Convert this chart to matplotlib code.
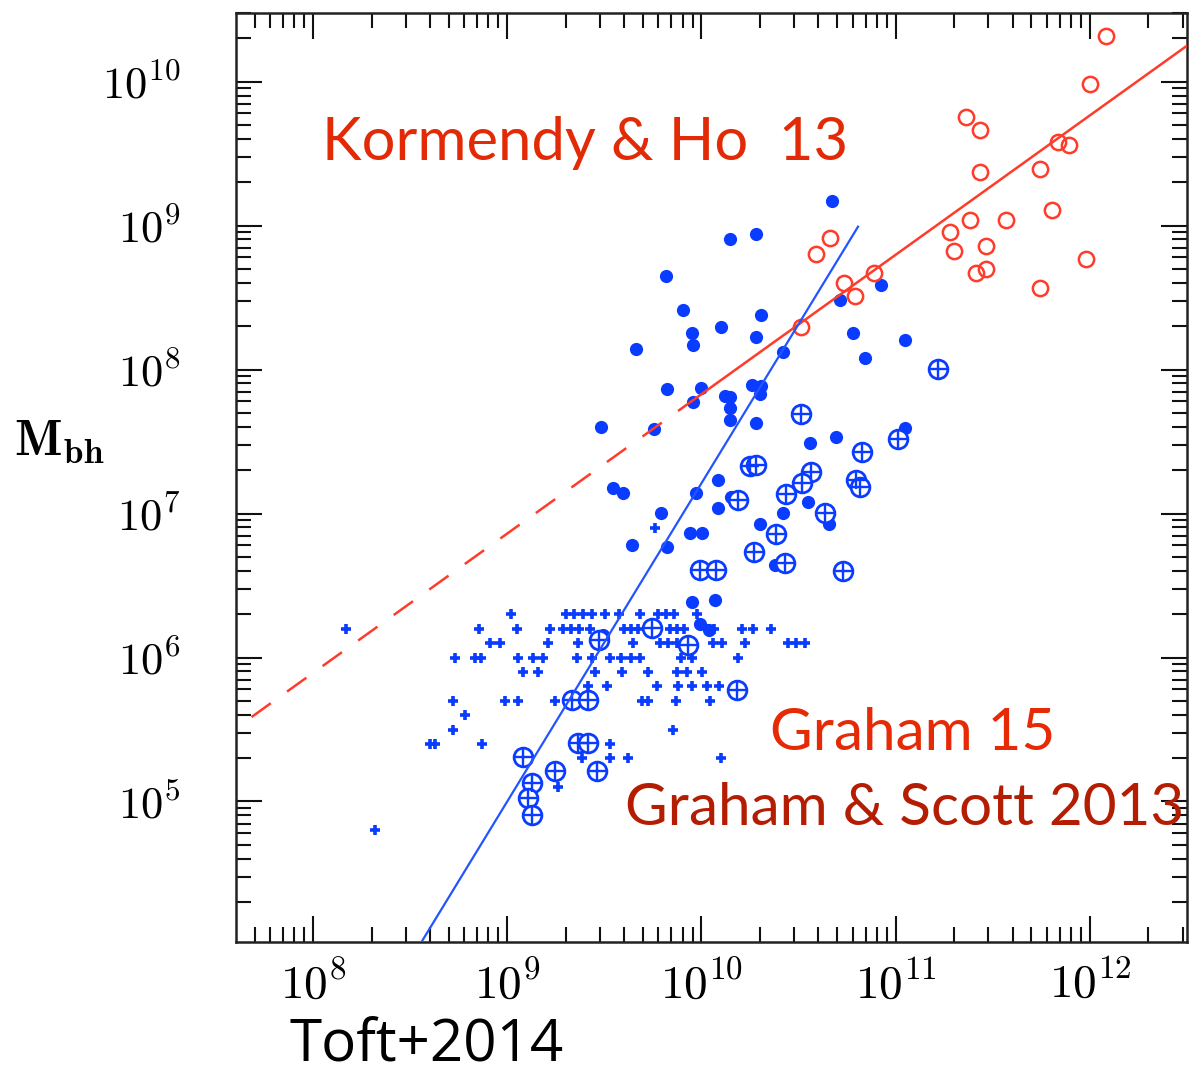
import numpy as np
import matplotlib
matplotlib.use('Agg')
import matplotlib.pyplot as plt
from matplotlib.ticker import LogLocator, FuncFormatter, NullFormatter

plt.rcParams['mathtext.fontset'] = 'cm'

# log10 stellar mass / log10 black hole mass

# Kormendy & Ho 13 sample (open red circles)
kh_logm = [12.084, 12.002, 11.364, 11.432, 11.835, 11.892, 11.432, 11.741,
           11.806, 11.570, 11.381, 11.278, 11.463, 11.298, 11.981, 11.463,
           11.412, 11.741, 10.664, 10.592, 10.732, 10.789, 10.887, 10.510]
kh_logbh = [10.316, 9.981, 9.756, 9.663, 9.582, 9.559, 9.374, 9.392,
            9.108, 9.038, 9.038, 8.953, 8.860, 8.825, 8.765, 8.698,
            8.668, 8.564, 8.911, 8.802, 8.599, 8.513, 8.668, 8.297]

# Graham & Scott 2013 galaxies (filled blue dots)
gs_logm = [10.674, 10.149, 10.283, 10.926, 10.712, 10.305, 10.098, 10.283,
           10.780, 11.046, 10.420, 9.816, 9.905, 9.949, 9.957, 9.665,
           9.820, 10.000, 9.957, 10.120, 10.149, 10.146, 10.149, 10.262,
           10.305, 10.300, 10.283, 9.480, 9.755, 10.840, 9.545, 9.597,
           9.971, 9.789, 9.940, 10.005, 9.640, 9.820, 9.949, 10.557,
           10.691, 11.046, 10.085, 10.154, 10.085, 10.549, 10.657, 10.420,
           10.300, 10.377, 10.068, 9.991, 10.038, 9.456, 9.492, 10.182]
gs_logbh = [9.170, 8.906, 8.939, 8.587, 8.483, 8.378, 8.297, 8.228,
            8.251, 8.205, 8.119, 8.651, 8.413, 8.256, 8.170, 8.142,
            7.863, 7.874, 7.772, 7.816, 7.811, 7.731, 7.649, 7.892,
            7.885, 7.828, 7.626, 7.603, 7.587, 8.078, 7.175, 7.144,
            7.144, 7.001, 6.867, 6.867, 6.781, 6.765, 6.388, 7.488,
            7.529, 7.596, 7.233, 7.117, 7.040, 7.078, 6.927, 7.001,
            6.925, 6.642, 6.399, 6.233, 6.191, 6.122, 6.156, 5.788]

# Sersic / bulgeless galaxies (circled plus)
sb_logm = [11.218, 10.510, 10.827, 11.012, 10.249, 10.283, 10.566, 10.515,
           10.437, 10.798, 10.815, 10.188, 10.635, 10.386, 10.269, 10.429,
           10.729, 9.991, 10.077, 9.743, 9.931, 9.471, 9.331, 9.416,
           9.365, 9.416, 9.082, 9.245, 9.463, 9.125, 9.108, 9.125, 10.183]
sb_logbh = [8.001, 7.691, 7.429, 7.517, 7.330, 7.337, 7.290, 7.214,
            7.135, 7.233, 7.186, 7.094, 7.006, 6.858, 6.735, 6.654,
            6.603, 6.608, 6.608, 6.203, 6.087, 6.122, 5.705, 5.705,
            5.408, 5.408, 5.311, 5.212, 5.212, 5.126, 5.022, 4.906, 5.774]

# low-mass AGN (small crosses), grouped by black hole mass
dw_rows = {
    6.3: [9.019, 9.302, 9.343, 9.389, 9.435, 9.502, 9.574, 9.682, 9.775,
          9.816, 9.857, 9.976],
    6.2: [8.169, 8.854, 9.049, 9.219, 9.286, 9.327, 9.368, 9.425, 9.600,
          9.636, 9.672, 9.837, 9.873, 9.909, 10.032, 10.063, 10.207, 10.264,
          10.357],
    6.1: [8.910, 8.962, 9.209, 9.363, 9.646, 9.785, 9.827, 9.873, 10.058,
          10.104, 10.223, 10.444, 10.485, 10.532],
    6.0: [8.730, 8.833, 8.864, 9.055, 9.132, 9.183, 9.358, 9.435, 9.528,
          9.585, 9.636, 9.682, 9.893, 9.950, 10.187],
    5.9: [9.080, 9.157, 9.451, 9.590, 9.724, 9.873, 9.924, 10.002],
    5.8: [9.415, 9.513, 9.770, 9.878, 9.950, 10.027, 10.089],
    5.7: [8.720, 8.988, 9.055, 9.245, 9.693, 9.724, 9.868, 10.043],
    5.6: [8.782],
    5.5: [8.720, 9.852],
    5.4: [8.602, 8.627, 8.869, 9.528],
    5.3: [9.384, 9.528, 9.621, 10.099],
    5.1: [9.260],
    4.8: [8.319],
    6.9: [9.760],
}

# fitted relations: log Mbh = norm + slope * (log M - pivot)
kh_slope, kh_norm, kh_pivot = 0.968, 10.253, 12.504
gs_slope, gs_norm, gs_pivot = 2.21, 8.992, 10.806
kh_break = 9.95

red = '#ff3b2a'
blue = '#0a3cff'

fig = plt.figure(figsize=(11.9, 10.78), dpi=100)
ax = fig.add_axes([0.1983, 0.1264, 0.7992, 0.8618])
ax.set_xscale('log')
ax.set_yscale('log')

dw_x = []
dw_y = []
for lbh, row in dw_rows.items():
    dw_x += row
    dw_y += [lbh] * len(row)
ax.plot(10**np.array(dw_x), 10**np.array(dw_y), ls='none', marker='+',
        ms=7, mew=2.6, color=blue, zorder=3)

ax.plot(10**np.array(gs_logm), 10**np.array(gs_logbh), ls='none', marker='o',
        ms=9.5, mew=0, color=blue, zorder=4)

sx = 10**np.array(sb_logm)
sy = 10**np.array(sb_logbh)
ax.plot(sx, sy, ls='none', marker='o', ms=13.5, mfc='white', mec=blue,
        mew=2.0, zorder=5)
ax.plot(sx, sy, ls='none', marker='+', ms=12.5, mec=blue, mew=1.7, zorder=6)

ax.plot(10**np.array(kh_logm), 10**np.array(kh_logbh), ls='none', marker='o',
        ms=11, mfc='none', mec=red, mew=1.8, zorder=5)

# Kormendy & Ho relation, dashed where extrapolated
lm = np.linspace(kh_break, 12.6, 50)
ax.plot(10**lm, 10**(kh_norm + kh_slope * (lm - kh_pivot)), color=red,
        lw=1.8, zorder=7)
lm = np.linspace(7.5, kh_break, 50)
ax.plot(10**lm, 10**(kh_norm + kh_slope * (lm - kh_pivot)), color=red,
        lw=1.8, dashes=(9.5, 8), zorder=7)

# Graham & Scott relation
lm = np.linspace(8.3, gs_pivot, 50)
ax.plot(10**lm, 10**(gs_norm + gs_slope * (lm - gs_pivot)), color='#2255ff',
        lw=1.6, zorder=7)

ax.set_xlim(10**7.603, 10**12.5)
ax.set_ylim(10**4.026, 10**10.478)


def pow_label(v, p):
    e = round(np.log10(v))
    if e < 5 or e > 12:
        return ''
    return r'$\mathbf{10^{%d}}$' % e


ax.xaxis.set_major_locator(LogLocator(base=10, numticks=20))
ax.yaxis.set_major_locator(LogLocator(base=10, numticks=20))
ax.xaxis.set_minor_locator(LogLocator(base=10, subs=np.arange(2, 10), numticks=40))
ax.yaxis.set_minor_locator(LogLocator(base=10, subs=np.arange(2, 10), numticks=40))
ax.xaxis.set_major_formatter(FuncFormatter(pow_label))
ax.yaxis.set_major_formatter(FuncFormatter(pow_label))
ax.xaxis.set_minor_formatter(NullFormatter())
ax.yaxis.set_minor_formatter(NullFormatter())

ax.tick_params(which='both', direction='in', top=True, right=True,
               width=1.5, color='#111111')
ax.tick_params(which='major', length=19)
ax.tick_params(which='minor', length=10.5)
ax.tick_params(axis='x', labelsize=34, pad=14)
ax.tick_params(axis='y', labelsize=32, pad=40)
for sp in ax.spines.values():
    sp.set_linewidth(1.8)
    sp.set_color('#222222')

fig.text(0.012, 0.59, r'$\mathbf{M}_{\mathbf{bh}}$', fontsize=36,
         va='center', ha='left')

sans = ['Lato', 'DejaVu Sans']
fig.text(322 / 1190, 1 - 160 / 1078, 'Kormendy & Ho  13', color='#e32a06',
         fontsize=43, family=sans, va='baseline')
fig.text(770 / 1190, 1 - 750 / 1078, 'Graham 15', color='#e52a05',
         fontsize=42, family=sans, va='baseline')
fig.text(625 / 1190, 1 - 825 / 1078, 'Graham & Scott 2013', color='#b51d03',
         fontsize=42, family=sans, va='baseline')
fig.text(290 / 1190, 1 - 1062 / 1078, 'Toft+2014', color='black',
         fontsize=42, family=['Open Sans', 'DejaVu Sans'], va='baseline')

fig.savefig('out.png', dpi=100, facecolor='white')
